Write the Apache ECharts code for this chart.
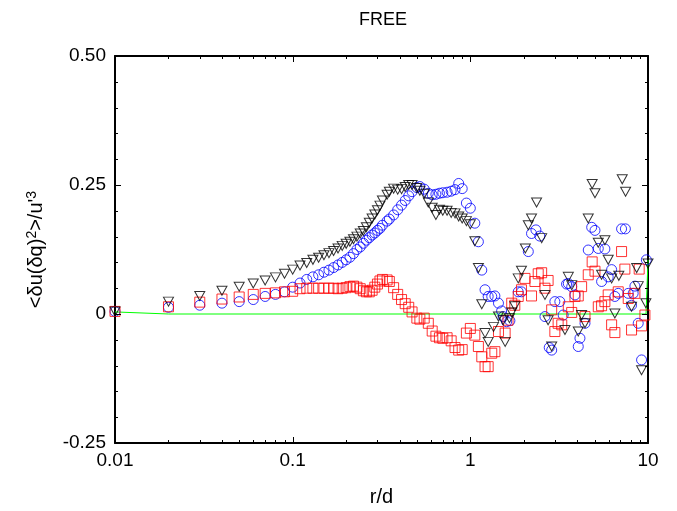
<!DOCTYPE html>
<html>
<head>
<meta charset="utf-8">
<script src="https://cdn.jsdelivr.net/npm/echarts@6/dist/echarts.min.js"></script>
<style>
  html, body { margin: 0; padding: 0; background: #fff; }
  #chart { width: 677px; height: 511px; }
</style>
</head>
<body>
<div id="chart"></div>
<script>
// Separation r/d, sampled finely up to r/d = 1
const rNear = [
  0.01, 0.02, 0.03, 0.04, 0.05, 0.06, 0.07, 0.08, 0.09, 0.10,
  0.11, 0.12, 0.13, 0.14, 0.15, 0.16, 0.17, 0.18, 0.19, 0.20,
  0.21, 0.22, 0.23, 0.24, 0.25, 0.26, 0.27, 0.28, 0.29, 0.30,
  0.31, 0.32, 0.34, 0.35, 0.37, 0.39, 0.41, 0.43, 0.45, 0.47,
  0.50, 0.52, 0.55, 0.58, 0.61, 0.64, 0.67, 0.70, 0.74, 0.78,
  0.82, 0.86, 0.90, 0.95, 1.00
];

// Black triangles
const triNear = [
  0.005, 0.024, 0.035, 0.045, 0.053, 0.059, 0.065, 0.071, 0.078, 0.086,
  0.094, 0.099, 0.105, 0.109, 0.114, 0.118, 0.122, 0.127, 0.132, 0.136,
  0.140, 0.145, 0.150, 0.156, 0.161, 0.168, 0.177, 0.185, 0.193, 0.201,
  0.210, 0.220, 0.231, 0.237, 0.243, 0.241, 0.242, 0.246, 0.250, 0.250,
  0.244, 0.239, 0.233, 0.216, 0.206, 0.192, 0.202, 0.200, 0.200, 0.196,
  0.195, 0.189, 0.185, 0.180, 0.174
];
const triFar = [
  [1.06, 0.141], [1.11, 0.089], [1.16, 0.019], [1.21, -0.037], [1.26, -0.054],
  [1.35, -0.025], [1.44, -0.005], [1.53, -0.012], [1.57, -0.054], [1.66, -0.008],
  [1.71, 0.003], [1.78, 0.015], [1.86, 0.069], [1.94, 0.084], [2.04, 0.127],
  [2.12, 0.172], [2.21, 0.185], [2.36, 0.216], [2.52, 0.147], [2.63, 0.037],
  [2.74, -0.012], [2.87, -0.063], [3.41, -0.031], [3.56, 0.072], [3.72, 0.056],
  [4.05, -0.034], [4.23, -0.002], [4.42, -0.018], [4.61, 0.185], [4.85, 0.252],
  [5.03, 0.234], [5.25, 0.138], [5.48, 0.076], [5.72, 0.143], [5.97, 0.105],
  [6.24, 0.069], [6.51, 0.001], [6.85, 0.074], [7.16, 0.261], [7.48, 0.237],
  [8.08, 0.014], [8.63, 0.089], [8.81, 0.054], [9.20, -0.109], [9.73, 0.021],
  [10.0, 0.098]
];

// Blue circles
const circNear = [
  0.005, 0.013, 0.017, 0.021, 0.024, 0.028, 0.034, 0.038, 0.043, 0.052,
  0.060, 0.067, 0.072, 0.076, 0.081, 0.085, 0.090, 0.095, 0.100, 0.105,
  0.110, 0.117, 0.125, 0.130, 0.137, 0.143, 0.148, 0.153, 0.157, 0.162,
  0.166, 0.172, 0.180, 0.184, 0.192, 0.202, 0.211, 0.220, 0.229, 0.237,
  0.245, 0.247, 0.242, 0.234, 0.231, 0.232, 0.234, 0.235, 0.236, 0.238,
  0.241, 0.253, 0.243, 0.215, 0.205
];
const circFar = [
  [1.06, 0.176], [1.11, 0.140], [1.16, 0.085], [1.21, 0.047], [1.26, 0.034],
  [1.32, 0.034], [1.375, 0.035], [1.44, 0.021], [1.50, 0.006], [1.53, -0.005],
  [1.60, -0.015], [1.67, -0.013], [1.86, 0.043], [1.94, 0.043], [2.12, 0.121],
  [2.21, 0.156], [2.34, 0.163], [2.46, 0.151], [2.63, -0.005], [2.78, -0.065],
  [2.87, -0.070], [2.99, 0.024], [3.19, 0.024], [3.33, -0.002], [3.48, 0.058],
  [3.56, 0.059], [3.72, 0.053], [3.88, 0.037], [4.05, -0.063], [4.14, -0.047],
  [4.42, -0.018], [4.61, 0.124], [4.82, 0.168], [5.03, 0.162], [5.25, 0.127],
  [5.48, 0.063], [5.72, 0.126], [5.97, 0.072], [6.24, 0.086], [6.51, 0.034],
  [6.80, 0.040], [7.10, 0.165], [7.46, 0.165], [7.74, 0.040], [8.08, 0.017],
  [8.25, 0.040], [8.44, 0.054], [8.81, -0.018], [9.20, -0.089], [9.79, 0.105]
];

// Red squares
const sqNear = [
  0.005, 0.014, 0.023, 0.029, 0.033, 0.038, 0.040, 0.041, 0.043, 0.044,
  0.049, 0.050, 0.050, 0.050, 0.050, 0.050, 0.050, 0.049, 0.050, 0.051,
  0.053, 0.054, 0.052, 0.049, 0.045, 0.043, 0.043, 0.046, 0.052, 0.058,
  0.064, 0.067, 0.066, 0.063, 0.051, 0.038, 0.028, 0.020, 0.013, 0.004,
  -0.008, -0.010, -0.008, -0.018, -0.033, -0.043, -0.046, -0.047, -0.046, -0.052,
  -0.065, -0.070, -0.069, -0.037, -0.028
];
const sqFar = [
  [1.06, -0.041], [1.11, -0.063], [1.16, -0.083], [1.21, -0.102], [1.26, -0.102],
  [1.32, -0.076], [1.375, -0.073], [1.44, -0.034], [1.57, -0.037], [1.63, -0.012],
  [1.71, 0.021], [1.78, 0.017], [1.86, 0.034], [1.94, 0.047], [2.03, 0.069],
  [2.21, 0.035], [2.31, 0.063], [2.41, 0.078], [2.52, 0.080], [2.63, 0.050],
  [2.74, 0.065], [2.87, 0.008], [2.99, -0.034], [3.12, -0.018], [3.27, -0.021],
  [3.56, 0.014], [3.72, 0.003], [3.88, 0.034], [4.05, 0.035], [4.23, 0.053],
  [4.42, -0.005], [4.61, 0.076], [4.85, 0.101], [5.03, 0.083], [5.25, 0.014],
  [5.48, 0.016], [5.72, 0.024], [5.97, 0.037], [6.24, -0.021], [6.51, -0.036],
  [6.80, 0.043], [7.10, 0.121], [7.41, 0.087], [7.74, 0.030], [8.08, -0.031],
  [8.44, 0.040], [8.92, 0.087], [9.20, -0.023], [9.61, -0.002]
];

// Green reference curve
const refCurve = [[0.01, 0.004], [0.02, 0.0], [9.75, 0.0], [10.0, 0.105]];

// Axis ticks and labels
const xDecadeLabels = { 0.01: '0.01', 0.1: '0.1', 1: '1', 10: '10' };
const xMajorTicks = [0.1, 1];
const xMinorTicks = [
  0.02, 0.03, 0.04, 0.05, 0.06, 0.07, 0.08, 0.09,
  0.2, 0.3, 0.4, 0.5, 0.6, 0.7, 0.8, 0.9,
  2, 3, 4, 5, 6, 7, 8, 9
];
const yTickLabels = { '0.5': '0.50', '0.25': '0.25', '0': '0', '-0.25': '-0.25' };
const yMajorTicks = [0, 0.25];
const yMinorTicks = [-0.2, -0.15, -0.1, -0.05, 0.05, 0.1, 0.15, 0.2, 0.3, 0.35, 0.4, 0.45];

const FONT = '"Liberation Sans", Arial, sans-serif';
const AXIS_LINE = { color: '#000', width: 2 };

function pair(xs, ys) { return xs.map((x, i) => [x, ys[i]]); }

function hollow(color) {
  return { color: 'rgba(0,0,0,0)', borderColor: color, borderWidth: 1 };
}

const chart = echarts.init(document.getElementById('chart'), null, { renderer: 'canvas' });
chart.setOption({
  backgroundColor: '#fff',
  animation: false,
  title: {
    text: 'FREE', left: 378, top: 6, textAlign: 'center',
    textStyle: { color: '#000', fontSize: 18, fontWeight: 'normal', fontFamily: FONT }
  },
  grid: { left: 115, right: 29, top: 56, bottom: 68, containLabel: false, outerBoundsMode: 'none' },
  xAxis: [{
    type: 'log', logBase: 10, min: 0.01, max: 10, position: 'bottom',
    axisLine: { show: true, onZero: false, lineStyle: AXIS_LINE },
    axisTick: { show: false },
    axisLabel: {
      show: true, margin: 8, color: '#000', fontSize: 19, fontFamily: FONT,
      formatter: v => xDecadeLabels[+v.toPrecision(3)] || ''
    },
    splitLine: { show: false },
    name: 'r/d', nameLocation: 'middle', nameGap: 44,
    nameTextStyle: { color: '#000', fontSize: 20, fontFamily: FONT }
  }, {
    type: 'log', logBase: 10, min: 0.01, max: 10, position: 'top',
    axisLine: { show: true, onZero: false, lineStyle: AXIS_LINE },
    axisTick: { show: false }, axisLabel: { show: false }, splitLine: { show: false }
  }],
  yAxis: [{
    type: 'value', min: -0.25, max: 0.5, interval: 0.25, position: 'left',
    axisLine: { show: true, onZero: false, lineStyle: AXIS_LINE },
    axisTick: { show: false },
    axisLabel: {
      show: true, margin: 9, color: '#000', fontSize: 19, fontFamily: FONT,
      formatter: v => yTickLabels[String(+v.toFixed(2))]
    },
    splitLine: { show: false },
    name: "<δu(δq){sup|2}>/u'{sup|3}",
    nameLocation: 'middle', nameGap: 68, nameRotate: 90,
    nameTextStyle: {
      color: '#000', fontSize: 20, fontFamily: FONT,
      rich: { sup: { fontSize: 14, fontFamily: FONT, color: '#000', verticalAlign: 'top', padding: [0, 0, 8, 0] } }
    }
  }, {
    type: 'value', min: -0.25, max: 0.5, interval: 0.25, position: 'right',
    axisLine: { show: true, onZero: false, lineStyle: AXIS_LINE },
    axisTick: { show: false }, axisLabel: { show: false }, splitLine: { show: false }
  }],
  series: [
    {
      type: 'line', data: refCurve, showSymbol: false, symbol: 'none',
      lineStyle: { color: '#00ff00', width: 1 }, z: 1, silent: true
    },
    {
      type: 'scatter', data: pair(rNear, circNear).concat(circFar),
      symbol: 'circle', symbolSize: 10, itemStyle: hollow('#0000ff'), z: 2
    },
    {
      type: 'scatter', data: pair(rNear, sqNear).concat(sqFar),
      symbol: 'rect', symbolSize: 10, itemStyle: hollow('#ff0000'), z: 3
    },
    {
      type: 'scatter', data: pair(rNear, triNear).concat(triFar),
      symbol: 'triangle', symbolRotate: 180, symbolSize: [10, 9], itemStyle: hollow('#000000'), z: 4
    }
  ]
});

// Inward tick marks on all four sides, placed through the axes' own scales
(function drawTicks() {
  const px = v => chart.convertToPixel({ xAxisIndex: 0 }, v);
  const py = v => chart.convertToPixel({ yAxisIndex: 0 }, v);
  const left = px(0.01), right = px(10), top = py(0.5), bottom = py(-0.25);
  const snap = v => Math.round(v) + 0.5;
  const els = [];
  const seg = (x1, y1, x2, y2) => els.push({
    type: 'line', silent: true, z: 50,
    shape: { x1: x1, y1: y1, x2: x2, y2: y2 },
    style: { stroke: '#000', lineWidth: 1 }
  });
  xMajorTicks.forEach(v => { const x = snap(px(v)); seg(x, bottom, x, bottom - 6); seg(x, top, x, top + 6); });
  xMinorTicks.forEach(v => { const x = snap(px(v)); seg(x, bottom, x, bottom - 3); seg(x, top, x, top + 3); });
  yMajorTicks.forEach(v => { const y = snap(py(v)); seg(left, y, left + 6, y); seg(right, y, right - 6, y); });
  yMinorTicks.forEach(v => { const y = snap(py(v)); seg(left, y, left + 3, y); seg(right, y, right - 3, y); });
  chart.setOption({ graphic: els });
})();
</script>
</body>
</html>
